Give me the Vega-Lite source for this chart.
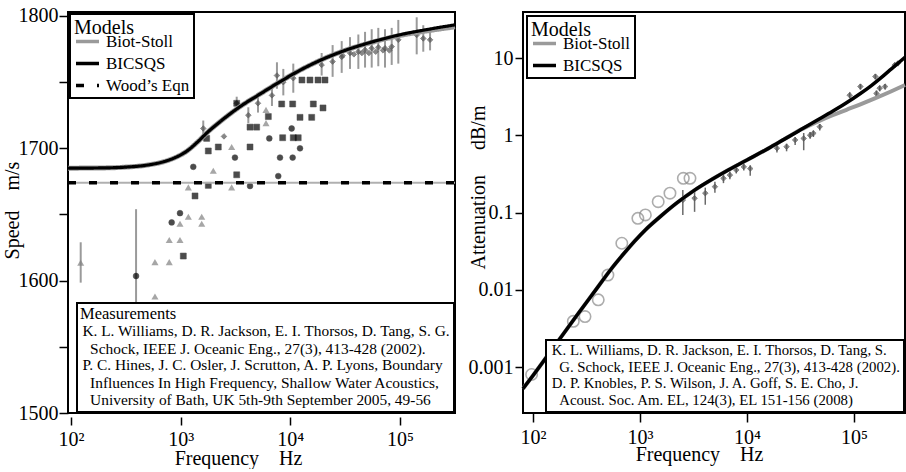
{
  "$schema": "https://vega.github.io/schema/vega-lite/v6.json",
  "background": "white",
  "padding": {"left": 1, "top": 4, "right": 0, "bottom": 0},
  "bounds": "flush",
  "spacing": 68,
  "datasets": {
    "speedModels": [
      {"model": "Biot-Stoll", "f": 93.9, "v": 1685.0}, {"model": "Biot-Stoll", "f": 200, "v": 1685.2}, {"model": "Biot-Stoll", "f": 316, "v": 1685.8}, {"model": "Biot-Stoll", "f": 501, "v": 1687.4}, {"model": "Biot-Stoll", "f": 708, "v": 1690.0}, {"model": "Biot-Stoll", "f": 891, "v": 1693.0}, {"model": "Biot-Stoll", "f": 1122, "v": 1697.5}, {"model": "Biot-Stoll", "f": 1413, "v": 1704.5}, {"model": "Biot-Stoll", "f": 1778, "v": 1712.5}, {"model": "Biot-Stoll", "f": 2239, "v": 1719.5}, {"model": "Biot-Stoll", "f": 2818, "v": 1726.0}, {"model": "Biot-Stoll", "f": 3548, "v": 1732.0}, {"model": "Biot-Stoll", "f": 5012, "v": 1739.8}, {"model": "Biot-Stoll", "f": 7943, "v": 1750.0}, {"model": "Biot-Stoll", "f": 12589, "v": 1759.5}, {"model": "Biot-Stoll", "f": 19953, "v": 1767.5}, {"model": "Biot-Stoll", "f": 31623, "v": 1774.0}, {"model": "Biot-Stoll", "f": 56234, "v": 1780.2}, {"model": "Biot-Stoll", "f": 100000, "v": 1785.3}, {"model": "Biot-Stoll", "f": 177828, "v": 1788.8}, {"model": "Biot-Stoll", "f": 317300, "v": 1791.8},
      {"model": "BICSQS", "f": 93.9, "v": 1685.0}, {"model": "BICSQS", "f": 200, "v": 1685.2}, {"model": "BICSQS", "f": 316, "v": 1685.8}, {"model": "BICSQS", "f": 501, "v": 1687.4}, {"model": "BICSQS", "f": 708, "v": 1690.0}, {"model": "BICSQS", "f": 891, "v": 1693.0}, {"model": "BICSQS", "f": 1122, "v": 1697.5}, {"model": "BICSQS", "f": 1413, "v": 1704.5}, {"model": "BICSQS", "f": 1778, "v": 1712.5}, {"model": "BICSQS", "f": 2239, "v": 1719.5}, {"model": "BICSQS", "f": 2818, "v": 1726.0}, {"model": "BICSQS", "f": 3548, "v": 1732.0}, {"model": "BICSQS", "f": 5012, "v": 1739.8}, {"model": "BICSQS", "f": 7943, "v": 1750.0}, {"model": "BICSQS", "f": 12589, "v": 1759.5}, {"model": "BICSQS", "f": 19953, "v": 1767.5}, {"model": "BICSQS", "f": 31623, "v": 1774.0}, {"model": "BICSQS", "f": 56234, "v": 1780.5}, {"model": "BICSQS", "f": 100000, "v": 1785.8}, {"model": "BICSQS", "f": 177828, "v": 1789.8}, {"model": "BICSQS", "f": 317300, "v": 1793.3},
      {"model": "Wood’s Eqn", "f": 93.9, "v": 1674}, {"model": "Wood’s Eqn", "f": 317300, "v": 1674}
    ],
    "speedPts": [
      {"kind": "W", "src": "W", "f": 1607, "v": 1715, "lo": 1706, "hi": 1721},
      {"kind": "W", "src": "W", "f": 3243, "v": 1734, "lo": 1729, "hi": 1739},
      {"kind": "W", "src": "W", "f": 4140, "v": 1725, "lo": 1719, "hi": 1731},
      {"kind": "W", "src": "W", "f": 5070, "v": 1734, "lo": 1727, "hi": 1741},
      {"kind": "W", "src": "W", "f": 6800, "v": 1740, "lo": 1732, "hi": 1748},
      {"kind": "W", "src": "W", "f": 7550, "v": 1755, "lo": 1745, "hi": 1765},
      {"kind": "W", "src": "W", "f": 8630, "v": 1750, "lo": 1740, "hi": 1760},
      {"kind": "W", "src": "W", "f": 10640, "v": 1753, "lo": 1742, "hi": 1764},
      {"kind": "W", "src": "W", "f": 19300, "v": 1763, "lo": 1755, "hi": 1772},
      {"kind": "W", "src": "W", "f": 24300, "v": 1765.5, "lo": 1754, "hi": 1778},
      {"kind": "W", "src": "W", "f": 29400, "v": 1769, "lo": 1757, "hi": 1781},
      {"kind": "W", "src": "W", "f": 35000, "v": 1772, "lo": 1760, "hi": 1784},
      {"kind": "W", "src": "W", "f": 41700, "v": 1773, "lo": 1760, "hi": 1786},
      {"kind": "W", "src": "W", "f": 48000, "v": 1774.3, "lo": 1761, "hi": 1788},
      {"kind": "W", "src": "W", "f": 55200, "v": 1775.6, "lo": 1761, "hi": 1790},
      {"kind": "W", "src": "W", "f": 63400, "v": 1776.3, "lo": 1762, "hi": 1791},
      {"kind": "W", "src": "W", "f": 73000, "v": 1775.6, "lo": 1761, "hi": 1790},
      {"kind": "W", "src": "W", "f": 84000, "v": 1776.8, "lo": 1763, "hi": 1791},
      {"kind": "W", "src": "W", "f": 96500, "v": 1782, "lo": 1764, "hi": 1797},
      {"kind": "W", "src": "W", "f": 142000, "v": 1785.6, "lo": 1771, "hi": 1799},
      {"kind": "W", "src": "W", "f": 163000, "v": 1783, "lo": 1773, "hi": 1793},
      {"kind": "W", "src": "W", "f": 188000, "v": 1782, "lo": 1774, "hi": 1790},
      {"kind": "W", "src": "W", "f": 2483, "v": 1709},
      {"kind": "W", "src": "W", "f": 30000, "v": 1770},
      {"kind": "W", "src": "W", "f": 38000, "v": 1771},
      {"kind": "W", "src": "W", "f": 45000, "v": 1772},
      {"kind": "W", "src": "W", "f": 52000, "v": 1772},
      {"kind": "W", "src": "W", "f": 60000, "v": 1773},
      {"kind": "W", "src": "W", "f": 70000, "v": 1774},
      {"kind": "W", "src": "W", "f": 80000, "v": 1774},
      {"kind": "sq", "src": "H", "f": 3243, "v": 1734}, {"kind": "sq", "src": "H", "f": 8337, "v": 1733.5}, {"kind": "sq", "src": "H", "f": 10500, "v": 1733.5}, {"kind": "sq", "src": "H", "f": 16200, "v": 1733.5}, {"kind": "sq", "src": "H", "f": 19850, "v": 1730.5},
      {"kind": "sq", "src": "H", "f": 6300, "v": 1724}, {"kind": "sq", "src": "H", "f": 12250, "v": 1723.4}, {"kind": "sq", "src": "H", "f": 15660, "v": 1723.4},
      {"kind": "sq", "src": "H", "f": 4290, "v": 1716}, {"kind": "sq", "src": "H", "f": 4930, "v": 1716},
      {"kind": "sq", "src": "H", "f": 12760, "v": 1751.6}, {"kind": "sq", "src": "H", "f": 15100, "v": 1751.6}, {"kind": "sq", "src": "H", "f": 17870, "v": 1751.6}, {"kind": "sq", "src": "H", "f": 20700, "v": 1751.6},
      {"kind": "sq", "src": "H", "f": 8510, "v": 1708}, {"kind": "sq", "src": "H", "f": 10640, "v": 1708}, {"kind": "sq", "src": "H", "f": 11800, "v": 1708},
      {"kind": "sq", "src": "H", "f": 4290, "v": 1701}, {"kind": "sq", "src": "H", "f": 2203, "v": 1701}, {"kind": "sq", "src": "H", "f": 1786, "v": 1698}, {"kind": "sq", "src": "H", "f": 1726, "v": 1707.5},
      {"kind": "sq", "src": "H", "f": 3243, "v": 1680}, {"kind": "sq", "src": "H", "f": 1786, "v": 1672}, {"kind": "sq", "src": "H", "f": 1352, "v": 1664}, {"kind": "sq", "src": "H", "f": 1057, "v": 1618.6},
      {"kind": "ci", "src": "H", "f": 10280, "v": 1715}, {"kind": "ci", "src": "H", "f": 6430, "v": 1707.5}, {"kind": "ci", "src": "H", "f": 12250, "v": 1700}, {"kind": "ci", "src": "H", "f": 3126, "v": 1693}, {"kind": "ci", "src": "H", "f": 8050, "v": 1693}, {"kind": "ci", "src": "H", "f": 10500, "v": 1693}, {"kind": "ci", "src": "H", "f": 1303, "v": 1686}, {"kind": "ci", "src": "H", "f": 7760, "v": 1679}, {"kind": "ci", "src": "H", "f": 4290, "v": 1671.5}, {"kind": "ci", "src": "H", "f": 986, "v": 1651}, {"kind": "ci", "src": "H", "f": 828, "v": 1644},
      {"kind": "ci", "src": "H", "f": 392, "v": 1603.5, "lo": 1555, "hi": 1654},
      {"kind": "tr", "src": "H", "f": 2917, "v": 1701}, {"kind": "tr", "src": "H", "f": 6000, "v": 1719}, {"kind": "tr", "src": "H", "f": 6000, "v": 1729}, {"kind": "tr", "src": "H", "f": 1983, "v": 1683}, {"kind": "tr", "src": "H", "f": 1175, "v": 1670.5}, {"kind": "tr", "src": "H", "f": 2917, "v": 1670.5}, {"kind": "tr", "src": "H", "f": 1175, "v": 1648.3}, {"kind": "tr", "src": "H", "f": 1556, "v": 1648.3}, {"kind": "tr", "src": "H", "f": 986, "v": 1643}, {"kind": "tr", "src": "H", "f": 1556, "v": 1643}, {"kind": "tr", "src": "H", "f": 787, "v": 1630.7}, {"kind": "tr", "src": "H", "f": 986, "v": 1630.7}, {"kind": "tr", "src": "H", "f": 583, "v": 1614}, {"kind": "tr", "src": "H", "f": 787, "v": 1614}, {"kind": "tr", "src": "H", "f": 583, "v": 1588},
      {"kind": "tr", "src": "H", "f": 122.6, "v": 1613.5, "lo": 1598.5, "hi": 1629}
    ],
    "speedRefs": [
      {"src": "W", "ref": "K. L. Williams, D. R. Jackson, E. I. Thorsos, D. Tang, S. G.|\u200b\u00a0\u00a0Schock, IEEE J. Oceanic Eng., 27(3), 413-428 (2002)."},
      {"src": "H", "ref": "P. C. Hines, J. C. Osler, J. Scrutton, A. P. Lyons, Boundary|\u200b\u00a0\u00a0Influences In High Frequency, Shallow Water Acoustics,|\u200b\u00a0\u00a0University of Bath, UK 5th-9th September 2005, 49-56"}
    ],
    "attModels": [
      {"model": "Biot-Stoll", "f": 80.6, "a": 0.000525}, {"model": "Biot-Stoll", "f": 100, "a": 0.000776}, {"model": "Biot-Stoll", "f": 158.5, "a": 0.001862}, {"model": "Biot-Stoll", "f": 251.2, "a": 0.004467}, {"model": "Biot-Stoll", "f": 398.1, "a": 0.01059}, {"model": "Biot-Stoll", "f": 524.8, "a": 0.01778}, {"model": "Biot-Stoll", "f": 707.9, "a": 0.02951}, {"model": "Biot-Stoll", "f": 891.3, "a": 0.04266}, {"model": "Biot-Stoll", "f": 1122, "a": 0.05957}, {"model": "Biot-Stoll", "f": 1585, "a": 0.0912}, {"model": "Biot-Stoll", "f": 2239, "a": 0.1349}, {"model": "Biot-Stoll", "f": 3162, "a": 0.1905}, {"model": "Biot-Stoll", "f": 4467, "a": 0.257}, {"model": "Biot-Stoll", "f": 6310, "a": 0.3388}, {"model": "Biot-Stoll", "f": 10000, "a": 0.4786}, {"model": "Biot-Stoll", "f": 15849, "a": 0.6761}, {"model": "Biot-Stoll", "f": 22387, "a": 0.8913}, {"model": "Biot-Stoll", "f": 31623, "a": 1.1749}, {"model": "Biot-Stoll", "f": 44668, "a": 1.4791}, {"model": "Biot-Stoll", "f": 63096, "a": 1.8197}, {"model": "Biot-Stoll", "f": 85114, "a": 2.138}, {"model": "Biot-Stoll", "f": 114815, "a": 2.5119}, {"model": "Biot-Stoll", "f": 158489, "a": 3.02}, {"model": "Biot-Stoll", "f": 223872, "a": 3.7154}, {"model": "Biot-Stoll", "f": 299700, "a": 4.4668},
      {"model": "BICSQS", "f": 80.6, "a": 0.000525}, {"model": "BICSQS", "f": 100, "a": 0.000776}, {"model": "BICSQS", "f": 158.5, "a": 0.001862}, {"model": "BICSQS", "f": 251.2, "a": 0.004467}, {"model": "BICSQS", "f": 398.1, "a": 0.01059}, {"model": "BICSQS", "f": 524.8, "a": 0.01778}, {"model": "BICSQS", "f": 707.9, "a": 0.02951}, {"model": "BICSQS", "f": 891.3, "a": 0.04266}, {"model": "BICSQS", "f": 1122, "a": 0.05957}, {"model": "BICSQS", "f": 1585, "a": 0.0912}, {"model": "BICSQS", "f": 2239, "a": 0.1349}, {"model": "BICSQS", "f": 3162, "a": 0.1905}, {"model": "BICSQS", "f": 4467, "a": 0.257}, {"model": "BICSQS", "f": 6310, "a": 0.3388}, {"model": "BICSQS", "f": 10000, "a": 0.4786}, {"model": "BICSQS", "f": 15849, "a": 0.6761}, {"model": "BICSQS", "f": 22387, "a": 0.8913}, {"model": "BICSQS", "f": 31623, "a": 1.1749}, {"model": "BICSQS", "f": 44668, "a": 1.5488}, {"model": "BICSQS", "f": 63096, "a": 2.0417}, {"model": "BICSQS", "f": 85114, "a": 2.6303}, {"model": "BICSQS", "f": 114815, "a": 3.4674}, {"model": "BICSQS", "f": 141254, "a": 4.2658}, {"model": "BICSQS", "f": 173780, "a": 5.3703}, {"model": "BICSQS", "f": 223872, "a": 7.2444}, {"model": "BICSQS", "f": 299700, "a": 10.233}
    ],
    "attPts": [
      {"kind": "K", "src": "K", "f": 97, "a": 0.0008}, {"kind": "K", "src": "K", "f": 238, "a": 0.0039}, {"kind": "K", "src": "K", "f": 306, "a": 0.0045}, {"kind": "K", "src": "K", "f": 407, "a": 0.0074}, {"kind": "K", "src": "K", "f": 501, "a": 0.0155}, {"kind": "K", "src": "K", "f": 676, "a": 0.04}, {"kind": "K", "src": "K", "f": 955, "a": 0.084}, {"kind": "K", "src": "K", "f": 1122, "a": 0.093}, {"kind": "K", "src": "K", "f": 1479, "a": 0.138}, {"kind": "K", "src": "K", "f": 1905, "a": 0.178}, {"kind": "K", "src": "K", "f": 2541, "a": 0.277}, {"kind": "K", "src": "K", "f": 2931, "a": 0.277},
      {"kind": "W", "src": "W", "f": 2512, "a": 0.145, "lo": 0.093, "hi": 0.195},
      {"kind": "W", "src": "W", "f": 3236, "a": 0.153, "lo": 0.102, "hi": 0.19},
      {"kind": "W", "src": "W", "f": 4074, "a": 0.178, "lo": 0.126, "hi": 0.21},
      {"kind": "W", "src": "W", "f": 5012, "a": 0.216, "lo": 0.18, "hi": 0.25},
      {"kind": "W", "src": "W", "f": 6026, "a": 0.277, "lo": 0.24, "hi": 0.31},
      {"kind": "W", "src": "W", "f": 6918, "a": 0.305, "lo": 0.27, "hi": 0.34},
      {"kind": "W", "src": "W", "f": 7943, "a": 0.355, "lo": 0.32, "hi": 0.39},
      {"kind": "W", "src": "W", "f": 9333, "a": 0.39, "lo": 0.35, "hi": 0.43},
      {"kind": "W", "src": "W", "f": 10715, "a": 0.37, "lo": 0.3, "hi": 0.41},
      {"kind": "W", "src": "W", "f": 19050, "a": 0.68, "lo": 0.6, "hi": 0.75},
      {"kind": "W", "src": "W", "f": 23440, "a": 0.71, "lo": 0.62, "hi": 0.78},
      {"kind": "W", "src": "W", "f": 28180, "a": 0.87, "lo": 0.75, "hi": 0.95},
      {"kind": "W", "src": "W", "f": 33880, "a": 0.91, "lo": 0.64, "hi": 1.07},
      {"kind": "W", "src": "W", "f": 38900, "a": 1.0, "lo": 0.9, "hi": 1.1},
      {"kind": "W", "src": "W", "f": 41700, "a": 1.06, "lo": 0.95, "hi": 1.15},
      {"kind": "W", "src": "W", "f": 47860, "a": 1.29, "lo": 1.15, "hi": 1.4},
      {"kind": "W", "src": "W", "f": 91200, "a": 3.3, "lo": 3.0, "hi": 3.6},
      {"kind": "W", "src": "W", "f": 114800, "a": 4.27, "lo": 3.9, "hi": 4.6},
      {"kind": "W", "src": "W", "f": 158500, "a": 5.75, "lo": 5.3, "hi": 6.2},
      {"kind": "W", "src": "W", "f": 162200, "a": 3.47, "lo": 3.2, "hi": 3.8},
      {"kind": "W", "src": "W", "f": 173800, "a": 4.07, "lo": 3.7, "hi": 4.4},
      {"kind": "W", "src": "W", "f": 195000, "a": 4.27, "lo": 3.9, "hi": 4.6},
      {"kind": "W", "src": "W", "f": 240000, "a": 8.1, "lo": 7.5, "hi": 8.7},
      {"kind": "W", "src": "W", "f": 257000, "a": 8.5, "lo": 7.9, "hi": 9.1}
    ],
    "attRefs": [
      {"src": "W", "ref": "K. L. Williams, D. R. Jackson, E. I. Thorsos, D. Tang, S.|\u200b\u00a0\u00a0G. Schock, IEEE J. Oceanic Eng., 27(3), 413-428 (2002)."},
      {"src": "K", "ref": "D. P. Knobles, P. S. Wilson, J. A. Goff, S. E. Cho, J.|\u200b\u00a0\u00a0Acoust. Soc. Am. EL, 124(3), EL 151-156 (2008)"}
    ]
  },
  "hconcat": [
    {
      "width": 387,
      "height": 401,
      "encoding": {
        "x": {"field": "f", "type": "quantitative", "title": "Frequency\u00a0\u00a0\u00a0\u00a0Hz",
          "scale": {"type": "log", "domain": [93.9, 317300], "nice": false},
          "axis": {"values": [100, 1000, 10000, 100000], "labelExpr": "datum.value == 100 ? '10²' : datum.value == 1000 ? '10³' : datum.value == 10000 ? '10⁴' : '10⁵'", "offset": 4, "tickSize": 8, "labelBaseline": "alphabetic", "labelPadding": 20, "titleX": 170, "titleY": 47, "titleBaseline": "alphabetic"}},
        "y": {"field": "v", "type": "quantitative", "title": "Speed\u00a0\u00a0\u00a0\u00a0m/s",
          "scale": {"domain": [1500, 1803], "nice": false, "zero": false},
          "axis": {"values": [1500, 1550, 1600, 1650, 1700, 1750, 1800], "labelExpr": "datum.value % 100 == 0 ? format(datum.value, 'd') : ''", "tickSize": 9, "labelPadding": 1, "titleX": -50, "titleY": 198, "titleBaseline": "alphabetic", "titleAngle": 270}}
      },
      "layer": [
        {
          "data": {"name": "speedPts"},
          "transform": [{"filter": "isValid(datum.lo)"}],
          "mark": {"type": "rule", "color": "#9a9a9a", "strokeWidth": 2},
          "encoding": {"y": {"field": "lo", "type": "quantitative", "title": "Speed\u00a0\u00a0\u00a0\u00a0m/s"}, "y2": {"field": "hi"}}
        },
        {
          "data": {"name": "speedPts"},
          "transform": [{"filter": "datum.kind == 'W'"}, {"lookup": "src", "from": {"data": {"name": "speedRefs"}, "key": "src", "fields": ["ref"]}}],
          "mark": {"type": "point", "shape": "diamond", "filled": true, "fill": "#555555", "size": 30, "strokeWidth": 1},
          "encoding": {"stroke": {"field": "ref", "type": "nominal",
            "scale": {"domain": ["K. L. Williams, D. R. Jackson, E. I. Thorsos, D. Tang, S. G.|\u200b\u00a0\u00a0Schock, IEEE J. Oceanic Eng., 27(3), 413-428 (2002).", "P. C. Hines, J. C. Osler, J. Scrutton, A. P. Lyons, Boundary|\u200b\u00a0\u00a0Influences In High Frequency, Shallow Water Acoustics,|\u200b\u00a0\u00a0University of Bath, UK 5th-9th September 2005, 49-56"], "range": ["#555555", "#000000"]},
            "legend": {"title": "Measurements", "orient": "bottom-right", "offset": 1, "symbolSize": 1, "symbolStrokeWidth": 0.01, "symbolOpacity": 0, "labelOffset": -13, "labelExpr": "split(datum.label, '|')", "labelLimit": 1000, "labelFontSize": 15.4, "titleFontSize": 16.5, "padding": 3, "rowPadding": 0, "titlePadding": 1}}}
        },
        {
          "data": {"name": "speedPts"},
          "transform": [{"filter": "datum.kind == 'sq'"}, {"lookup": "src", "from": {"data": {"name": "speedRefs"}, "key": "src", "fields": ["ref"]}}],
          "mark": {"type": "point", "shape": "square", "filled": true, "fill": "#000000", "size": 36, "strokeWidth": 0.5},
          "encoding": {"stroke": {"field": "ref", "type": "nominal"}}
        },
        {
          "data": {"name": "speedPts"},
          "transform": [{"filter": "datum.kind == 'ci'"}, {"lookup": "src", "from": {"data": {"name": "speedRefs"}, "key": "src", "fields": ["ref"]}}],
          "mark": {"type": "point", "shape": "circle", "filled": true, "fill": "#000000", "size": 34, "strokeWidth": 0.5},
          "encoding": {"stroke": {"field": "ref", "type": "nominal"}}
        },
        {
          "data": {"name": "speedPts"},
          "transform": [{"filter": "datum.kind == 'tr'"}, {"lookup": "src", "from": {"data": {"name": "speedRefs"}, "key": "src", "fields": ["ref"]}}],
          "mark": {"type": "point", "shape": "triangle-up", "filled": true, "fill": "#808080", "size": 50, "strokeWidth": 0},
          "encoding": {"stroke": {"field": "ref", "type": "nominal"}}
        },
        {
          "data": {"name": "speedModels"},
          "transform": [{"filter": "datum.model == 'Wood’s Eqn'"}],
          "mark": {"type": "line", "color": "#b0b0b0", "strokeWidth": 2},
          "encoding": {}
        },
        {
          "data": {"name": "speedModels"},
          "transform": [{"filter": "datum.model == 'Biot-Stoll'"}],
          "mark": {"type": "line", "strokeWidth": 5, "interpolate": "monotone"},
          "encoding": {
            "color": {"field": "model", "type": "nominal", "scale": {"domain": ["Biot-Stoll", "BICSQS", "Wood’s Eqn"], "range": ["#9a9a9a", "#000000", "#000000"]},
              "legend": {"title": "Models", "orient": "top-left", "offset": 2, "titleFontSize": 20, "labelFontSize": 17, "symbolType": "stroke", "symbolSize": 529, "symbolStrokeWidth": 3.5, "labelOffset": 5, "rowPadding": -11, "titlePadding": -10, "padding": 4}},
            "strokeDash": {"field": "model", "type": "nominal", "scale": {"domain": ["Biot-Stoll", "BICSQS", "Wood’s Eqn"], "range": [[1, 0], [1, 0], [8, 13]]},
              "legend": {"title": "Models", "orient": "top-left", "offset": 2, "titleFontSize": 20, "labelFontSize": 17, "symbolType": "stroke", "symbolSize": 529, "symbolStrokeWidth": 3.5, "labelOffset": 5, "rowPadding": -11, "titlePadding": -10, "padding": 4}}
          }
        },
        {
          "data": {"name": "speedModels"},
          "transform": [{"filter": "datum.model == 'BICSQS'"}],
          "mark": {"type": "line", "strokeWidth": 3.2, "interpolate": "monotone"},
          "encoding": {"color": {"field": "model", "type": "nominal"}, "strokeDash": {"field": "model", "type": "nominal"}}
        },
        {
          "data": {"name": "speedModels"},
          "transform": [{"filter": "datum.model == 'Wood’s Eqn'"}],
          "mark": {"type": "line", "strokeWidth": 3.5},
          "encoding": {"color": {"field": "model", "type": "nominal"}, "strokeDash": {"field": "model", "type": "nominal"}}
        }
      ]
    },
    {
      "width": 382,
      "height": 401,
      "encoding": {
        "x": {"field": "f", "type": "quantitative", "title": "Frequency\u00a0\u00a0\u00a0\u00a0Hz",
          "scale": {"type": "log", "domain": [80.6, 299700], "nice": false},
          "axis": {"values": [100, 1000, 10000, 100000], "labelExpr": "datum.value == 100 ? '10²' : datum.value == 1000 ? '10³' : datum.value == 10000 ? '10⁴' : '10⁵'", "tickSize": 9, "labelBaseline": "alphabetic", "labelPadding": 21, "titleX": 176, "titleY": 47, "titleBaseline": "alphabetic"}},
        "y": {"field": "a", "type": "quantitative", "title": "Attenuation\u00a0\u00a0\u00a0\u00a0\u00a0dB/m",
          "scale": {"type": "log", "domain": [0.000254, 39.4], "nice": false},
          "axis": {"values": [0.001, 0.01, 0.1, 1, 10], "format": ".3~f", "tickSize": 8, "labelPadding": 2, "titleX": -39, "titleY": 175, "titleBaseline": "alphabetic", "titleAngle": 270}}
      },
      "layer": [
        {
          "data": {"name": "attPts"},
          "transform": [{"filter": "isValid(datum.lo)"}],
          "mark": {"type": "rule", "color": "#6a6a6a", "strokeWidth": 1.5},
          "encoding": {"y": {"field": "lo", "type": "quantitative", "title": "Attenuation\u00a0\u00a0\u00a0\u00a0\u00a0dB/m"}, "y2": {"field": "hi"}}
        },
        {
          "data": {"name": "attPts"},
          "transform": [{"filter": "datum.kind == 'K'"}, {"lookup": "src", "from": {"data": {"name": "attRefs"}, "key": "src", "fields": ["ref"]}}],
          "mark": {"type": "point", "shape": "circle", "filled": false, "size": 130, "strokeWidth": 1.6},
          "encoding": {"stroke": {"field": "ref", "type": "nominal",
            "scale": {"domain": ["K. L. Williams, D. R. Jackson, E. I. Thorsos, D. Tang, S.|\u200b\u00a0\u00a0G. Schock, IEEE J. Oceanic Eng., 27(3), 413-428 (2002).", "D. P. Knobles, P. S. Wilson, J. A. Goff, S. E. Cho, J.|\u200b\u00a0\u00a0Acoust. Soc. Am. EL, 124(3), EL 151-156 (2008)"], "range": ["#555555", "#8a8a8a"]},
            "legend": {"title": null, "orient": "bottom-right", "offset": 1, "symbolSize": 1, "symbolStrokeWidth": 0.01, "symbolOpacity": 0, "labelOffset": -13, "labelExpr": "split(datum.label, '|')", "labelLimit": 1000, "labelFontSize": 14.8, "padding": 4, "rowPadding": 1}}}
        },
        {
          "data": {"name": "attPts"},
          "transform": [{"filter": "datum.kind == 'W'"}, {"lookup": "src", "from": {"data": {"name": "attRefs"}, "key": "src", "fields": ["ref"]}}],
          "mark": {"type": "point", "shape": "diamond", "filled": true, "fill": "#555555", "size": 30, "strokeWidth": 1},
          "encoding": {"stroke": {"field": "ref", "type": "nominal"}}
        },
        {
          "data": {"name": "attModels"},
          "transform": [{"filter": "datum.model == 'Biot-Stoll'"}],
          "mark": {"type": "line", "strokeWidth": 4, "interpolate": "monotone"},
          "encoding": {
            "color": {"field": "model", "type": "nominal", "scale": {"domain": ["Biot-Stoll", "BICSQS"], "range": ["#9a9a9a", "#000000"]},
              "legend": {"title": "Models", "orient": "top-left", "offset": 4, "titleFontSize": 20, "labelFontSize": 17, "symbolType": "stroke", "symbolSize": 529, "symbolStrokeWidth": 3.5, "labelOffset": 5, "rowPadding": -11, "titlePadding": -10, "padding": 4}}
          }
        },
        {
          "data": {"name": "attModels"},
          "transform": [{"filter": "datum.model == 'BICSQS'"}],
          "mark": {"type": "line", "strokeWidth": 3.5, "interpolate": "monotone"},
          "encoding": {"color": {"field": "model", "type": "nominal"}}
        }
      ]
    }
  ],
  "resolve": {"scale": {"color": "independent", "stroke": "independent", "strokeDash": "independent"}, "legend": {"color": "independent", "stroke": "independent", "strokeDash": "independent"}},
  "config": {
    "font": "Liberation Serif",
    "view": {"stroke": "black", "strokeWidth": 2},
    "axis": {"domain": false, "grid": false, "tickColor": "black", "tickWidth": 1.5, "labelColor": "black", "titleColor": "black", "labelFont": "Liberation Serif", "titleFont": "Liberation Serif", "labelFontSize": 20, "titleFontSize": 20, "titleFontWeight": "normal"},
    "legend": {"titleFont": "Liberation Serif", "labelFont": "Liberation Serif", "titleFontWeight": "normal", "titleColor": "black", "labelColor": "black", "strokeColor": "black", "fillColor": "white", "cornerRadius": 0, "strokeWidth": 2}
  }
}
